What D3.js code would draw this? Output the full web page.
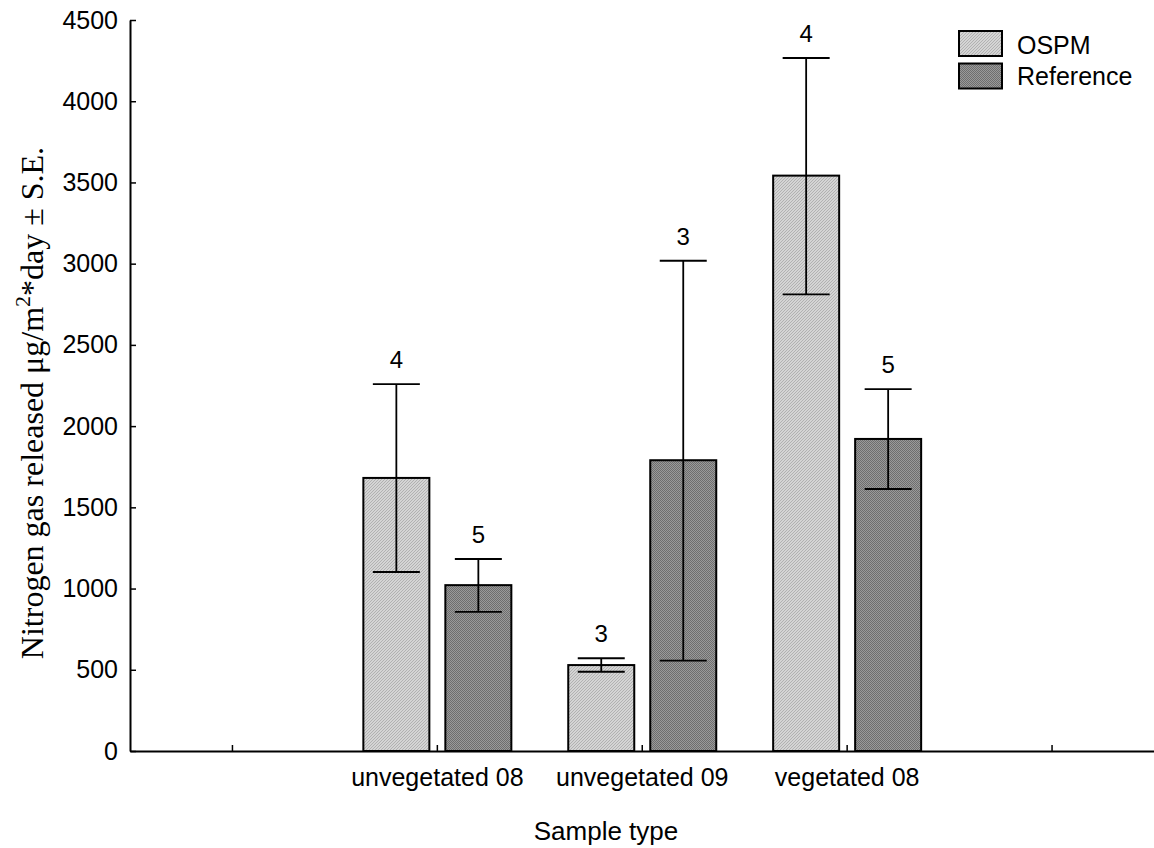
<!DOCTYPE html>
<html>
<head>
<meta charset="utf-8">
<script src="https://cdn.jsdelivr.net/npm/d3@7/dist/d3.min.js"></script>
<style>
  body { margin: 0; background: #fff; }
  svg { display: block; }
</style>
</head>
<body>
<script>
// ---- data ----
const categories = ["unvegetated 08", "unvegetated 09", "vegetated 08"];
const seriesNames = ["OSPM", "Reference"];
const ospmMean  = [1681, 529, 3542];
const ospmUpper = [2259, 571, 4266];
const ospmLower = [1102, 488, 2811];
const ospmN     = [4, 3, 4];
const refMean   = [1021, 1790, 1921];
const refUpper  = [1182, 3018, 2228];
const refLower  = [856, 556, 1613];
const refN      = [5, 3, 5];
const yTicks = [0, 500, 1000, 1500, 2000, 2500, 3000, 3500, 4000, 4500];

(function () {
const W = 1154, H = 848;
const SANS = "Liberation Sans, Arial, sans-serif";
const svg = d3.select("body").append("svg").attr("width", W).attr("height", H);

// patterns
const defs = svg.append("defs");
const p1 = defs.append("pattern").attr("id", "ospm").attr("patternUnits", "userSpaceOnUse")
  .attr("width", 3).attr("height", 3);
p1.append("rect").attr("width", 3).attr("height", 3).attr("fill", "#d4d4d4");
p1.append("path").attr("d", "M0,3 L3,0 M-1,1 L1,-1 M2,4 L4,2").attr("stroke", "#a8a8a8").attr("stroke-width", 0.8);
const p2 = defs.append("pattern").attr("id", "ref").attr("patternUnits", "userSpaceOnUse")
  .attr("width", 2).attr("height", 2);
p2.append("rect").attr("width", 2).attr("height", 2).attr("fill", "#9a9a9a");
p2.append("rect").attr("width", 1).attr("height", 1).attr("fill", "#6e6e6e");
p2.append("rect").attr("x", 1).attr("y", 1).attr("width", 1).attr("height", 1).attr("fill", "#6e6e6e");
const fills = ["url(#ospm)", "url(#ref)"];

const mLeft = 130, mRight = 1154, mTop = 20, mBottom = 751;
const slots = ["padL", ...categories, "padR"];
const x = d3.scaleBand().domain(slots).range([mLeft, mRight + 0.5]);
const y = d3.scaleLinear().domain([0, 4500]).range([mBottom, mTop]);

const sub = d3.scaleBand().domain(seriesNames).range([-74, 74]).paddingInner(0.195).paddingOuter(0);

const series = [
  { name: "OSPM", mean: ospmMean, up: ospmUpper, lo: ospmLower, n: ospmN },
  { name: "Reference", mean: refMean, up: refUpper, lo: refLower, n: refN }
];

// bars
series.forEach((s, si) => {
  const g = svg.append("g");
  categories.forEach((c, i) => {
    const cx = x(c) + x.bandwidth() / 2;
    const bx = cx + sub(s.name);
    const bw = sub.bandwidth();
    g.append("rect").attr("x", bx).attr("y", y(s.mean[i]))
      .attr("width", bw).attr("height", y(0) - y(s.mean[i]))
      .attr("fill", fills[si]).attr("stroke", "#000").attr("stroke-width", 2);
    const mx = bx + bw / 2;
    const cap = 23.5;
    g.append("line").attr("x1", mx).attr("x2", mx).attr("y1", y(s.up[i])).attr("y2", y(s.lo[i]))
      .attr("stroke", "#000").attr("stroke-width", 1.8);
    [s.up[i], s.lo[i]].forEach(v => {
      g.append("line").attr("x1", mx - cap).attr("x2", mx + cap).attr("y1", y(v)).attr("y2", y(v))
        .attr("stroke", "#000").attr("stroke-width", 1.8);
    });
    g.append("text").attr("x", mx).attr("y", y(s.up[i]) - 16)
      .attr("text-anchor", "middle").attr("font-family", SANS)
      .attr("font-size", 24).text(s.n[i]);
  });
});

// y axis
const yAxis = d3.axisLeft(y).tickValues(yTicks).tickFormat(d3.format("d"))
  .tickSizeInner(-6).tickSizeOuter(0).tickPadding(12);
const gy = svg.append("g").attr("transform", `translate(${mLeft},0)`).call(yAxis);
gy.attr("font-family", SANS).attr("font-size", 25);
gy.select(".domain").attr("stroke-width", 2);
gy.selectAll(".tick line").attr("stroke-width", 1.5);
gy.selectAll("text").attr("fill", "#000");

// x axis
const xAxis = d3.axisBottom(x).tickSizeInner(-6).tickSizeOuter(0)
  .tickFormat(d => categories.includes(d) ? d : "");
const gx = svg.append("g").attr("transform", `translate(0,${mBottom})`).call(xAxis);
gx.attr("font-family", SANS).attr("font-size", 25);
gx.select(".domain").attr("stroke-width", 2);
gx.selectAll(".tick line").attr("stroke-width", 1.5);
gx.selectAll("text").attr("fill", "#000").attr("y", 35).attr("dy", 0);

// axis titles
svg.append("text").attr("x", (mLeft + mRight) / 2 - 36).attr("y", 840)
  .attr("text-anchor", "middle").attr("font-family", SANS)
  .attr("font-size", 26).text("Sample type");

const yl = svg.append("text").attr("transform", "translate(43,403) rotate(-90)")
  .attr("text-anchor", "middle").attr("font-family", "Liberation Serif, Times New Roman, serif")
  .attr("font-size", 32);
yl.append("tspan").text("Nitrogen gas released \u03bcg/m");
yl.append("tspan").attr("dy", -13).attr("font-size", 22).text("2");
yl.append("tspan").attr("dy", 13).text("*day \u00b1 S.E.");

// legend
const lg = svg.append("g").attr("transform", "translate(959,31)");
seriesNames.forEach((n, i) => {
  lg.append("rect").attr("x", 0).attr("y", i * 32.5).attr("width", 43).attr("height", 25)
    .attr("fill", fills[i]).attr("stroke", "#000").attr("stroke-width", 2);
  lg.append("text").attr("x", 58).attr("y", i * 31 + 23)
    .attr("font-family", SANS).attr("font-size", 25).text(n);
});
})();
</script>
</body>
</html>
